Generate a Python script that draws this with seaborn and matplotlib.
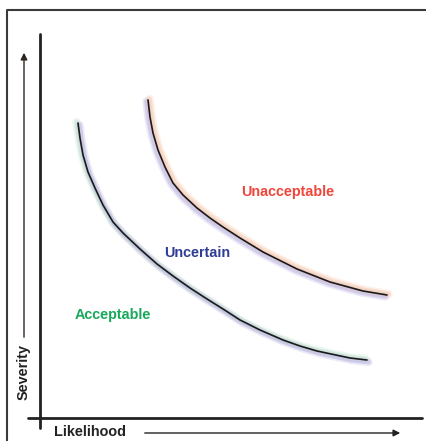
import matplotlib
matplotlib.use("Agg")
import matplotlib.pyplot as plt
import seaborn as sns
import pandas as pd

sns.set_theme(style="white")
plt.rcParams['font.family'] = ['Liberation Sans', 'DejaVu Sans']

# Curve data (image-space coordinates: x rightwards, y downwards)
lower_x = [78, 80, 83, 88, 95, 103, 113, 123, 140, 157, 173, 190, 207, 223,
           240, 260, 283, 300, 317, 350, 367]
lower_y = [123, 138, 155, 172, 188, 205, 222, 233, 249, 264, 276, 288, 299, 309,
           320, 330, 340, 346, 351, 358, 360]
upper_x = [148, 150, 153, 158, 165, 173, 183, 197, 210, 223, 240, 263, 297,
           330, 363, 387]
upper_y = [100, 117, 133, 150, 167, 183, 195, 208, 218, 227, 238, 252, 269,
           282, 291, 295]

zone_labels = ["Unacceptable", "Uncertain", "Acceptable"]
zone_colors = ["#f0463b", "#2f3d94", "#1aa85c"]
zone_x = [288, 197, 113]
zone_y = [192, 253, 315]

W, H = 426, 441
fig = plt.figure(figsize=(W / 100, H / 100), dpi=100)
ax = fig.add_axes([0, 0, 1, 1])
ax.set_xlim(0, W)
ax.set_ylim(H, 0)
ax.axis("off")

lower = pd.DataFrame({"x": lower_x, "y": lower_y})
upper = pd.DataFrame({"x": upper_x, "y": upper_y})

def shifted(df, dx, dy):
    return pd.DataFrame({"x": df["x"] + dx, "y": df["y"] + dy})

# soft glow shadows
for lw, a in [(6, 0.25), (3.5, 0.45)]:
    sns.lineplot(data=shifted(lower, -1.5, -1), x="x", y="y", sort=False, ax=ax,
                 color="#bfe3cb", lw=lw, alpha=a)
    sns.lineplot(data=shifted(lower, 1.5, 2), x="x", y="y", sort=False, ax=ax,
                 color="#b4acdf", lw=lw, alpha=a)
    sns.lineplot(data=shifted(upper, -1.5, 1.5), x="x", y="y", sort=False, ax=ax,
                 color="#b4acdf", lw=lw, alpha=a)
    sns.lineplot(data=shifted(upper, 1.5, -1), x="x", y="y", sort=False, ax=ax,
                 color="#f7c4a6", lw=lw, alpha=a)
# main curves
sns.lineplot(data=lower, x="x", y="y", sort=False, ax=ax, color="#1a1a1a", lw=1.2)
sns.lineplot(data=upper, x="x", y="y", sort=False, ax=ax, color="#1a1a1a", lw=1.2)

# frame (top and left edges)
ax.plot([7, 7, W], [H, 10, 10], color="#3a3a3a", lw=1.5, solid_capstyle="butt")

# axes lines
ax.plot([40, 40], [34, 428], color="#222222", lw=2)
ax.plot([28, 422], [418, 418], color="#222222", lw=2)

# severity arrow
ax.annotate("", xy=(24, 50), xytext=(24, 340),
            arrowprops=dict(arrowstyle="-|>", color="#2e2420", lw=1.0,
                            mutation_scale=10))
ax.text(24, 372, "Severity", rotation=90, ha="center", va="center",
        fontsize=10.4, fontweight="bold", color="#222222")

# likelihood arrow
ax.annotate("", xy=(403, 433), xytext=(142, 433),
            arrowprops=dict(arrowstyle="-|>", color="#222222", lw=1.0,
                            mutation_scale=10))
ax.text(54, 432, "Likelihood", ha="left", va="center",
        fontsize=10.4, fontweight="bold", color="#222222")

for lab, c, x, y in zip(zone_labels, zone_colors, zone_x, zone_y):
    ax.text(x, y, lab, ha="center", va="center", fontsize=10.4,
            fontweight="bold", color=c)

fig.savefig("out.png", dpi=100)
